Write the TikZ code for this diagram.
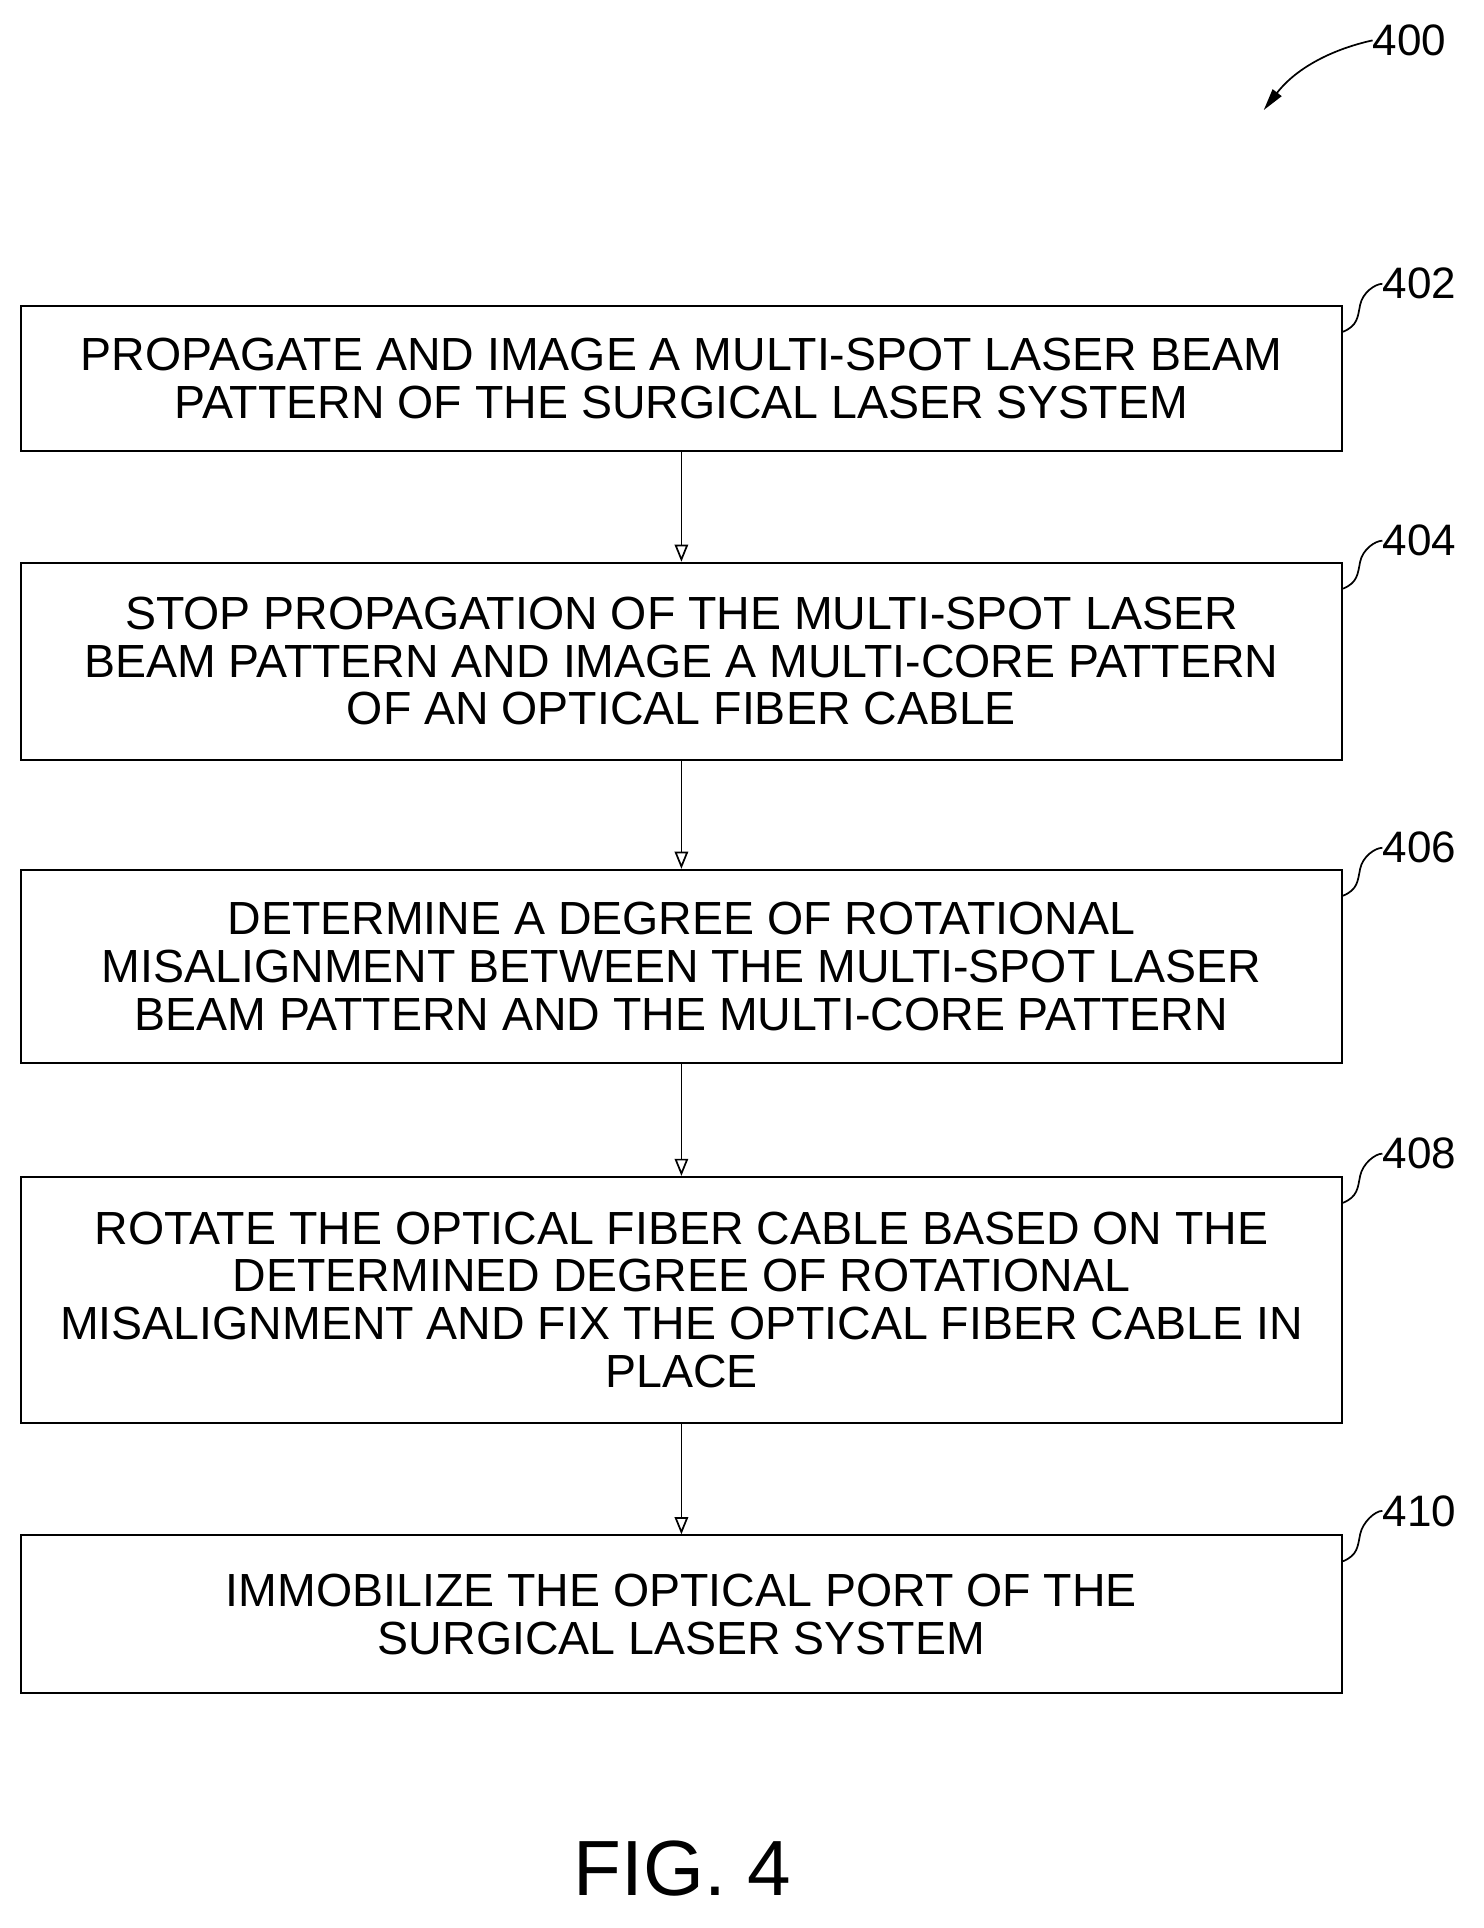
\documentclass[tikz,border=0pt]{standalone}
\usepackage{fontspec}
\setmainfont{Liberation Sans}
\usetikzlibrary{arrows.meta}
\begin{document}
\begin{tikzpicture}[x=1pt,y=-1pt,
  box/.style={draw,line width=1.6pt,minimum width=1080pt,inner sep=0pt,align=center,
    font=\fontsize{38}{39}\selectfont},
  arr/.style={line width=1.4pt,-{Triangle[open,length=14pt,width=11pt]}},
  lbl/.style={font=\fontsize{36}{39}\selectfont,anchor=west,inner sep=0pt}]
\useasboundingbox (0,0) rectangle (1213,1576);
\fill[white] (0,0) rectangle (1213,1576);
\node[box,minimum height=119pt] (b402) at (557,309.5) {PROPAGATE AND IMAGE A MULTI-SPOT LASER BEAM\\PATTERN OF THE SURGICAL LASER SYSTEM};
\node[box,minimum height=161pt] (b404) at (557,540.5) {STOP PROPAGATION OF THE MULTI-SPOT LASER\\BEAM PATTERN AND IMAGE A MULTI-CORE PATTERN\\OF AN OPTICAL FIBER CABLE};
\node[box,minimum height=158pt] (b406) at (557,790) {DETERMINE A DEGREE OF ROTATIONAL\\MISALIGNMENT BETWEEN THE MULTI-SPOT LASER\\BEAM PATTERN AND THE MULTI-CORE PATTERN};
\node[box,minimum height=201pt] (b408) at (557,1062.5) {ROTATE THE OPTICAL FIBER CABLE BASED ON THE\\DETERMINED DEGREE OF ROTATIONAL\\MISALIGNMENT AND FIX THE OPTICAL FIBER CABLE IN\\PLACE};
\node[box,minimum height=129pt] (b410) at (557,1319.5) {IMMOBILIZE THE OPTICAL PORT OF THE\\SURGICAL LASER SYSTEM};
\draw[arr] (b402) -- (b404);
\draw[arr] (b404) -- (b406);
\draw[arr] (b406) -- (b408);
\draw[arr] (b408) -- (b410);
\foreach \b/\y/\t in {b402/232/402,b404/442/404,b406/693/406,b408/943/408,b410/1235/410}{
  \node[lbl] (l\t) at (1130,\y) {\t};
  \draw[line width=1.4pt] ([yshift=-22pt]\b.north east) .. controls +(12,-5) and +(-2,10) .. +(14,-22) .. controls +(2,-10) and +(-6,0) .. (l\t.west);
}
\node[lbl] (l400) at (1122,33) {400};
\coordinate (t400) at (1033,90);
\draw[line width=1.4pt,-{Triangle[length=18pt,width=9pt]}] (l400.west) .. controls (1090,40) and (1060,55) .. (t400);
\node[font=\fontsize{64}{70}\selectfont] (fig) at (558,1527) {FIG. 4};
\end{tikzpicture}
\end{document}
